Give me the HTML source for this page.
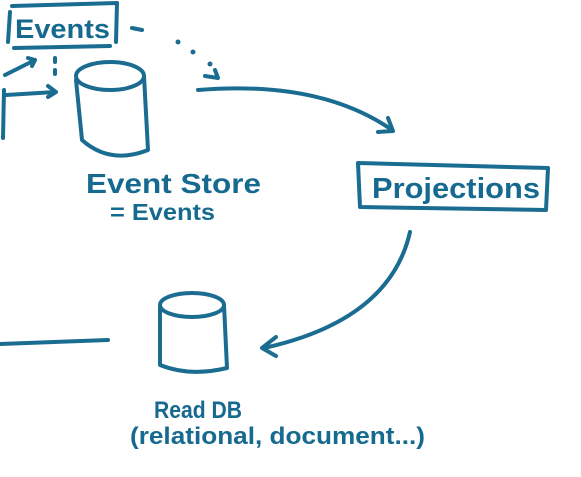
<!DOCTYPE html>
<html><head><style>
body{margin:0;background:#fff;width:581px;height:472px;overflow:hidden}
text{font-family:"Liberation Sans",sans-serif;fill:#176a8f;font-weight:bold}
</style></head><body>
<svg width="581" height="472" viewBox="0 0 581 472" fill="none" stroke="#1b6c91" stroke-width="4" stroke-linecap="round" stroke-linejoin="round">
<path d="M12 6 L117 3 M117 3 L116 42 M14 48 L110 46 M10 12 L8 42"/>
<text x="15" y="38" font-size="27" stroke="none" textLength="95" lengthAdjust="spacingAndGlyphs">Events</text>
<path d="M132 28 L142 30" /><circle cx="178" cy="42" r="2.5" fill="#1b6c91" stroke="none"/><circle cx="193" cy="52" r="2.5" fill="#1b6c91" stroke="none"/><circle cx="210" cy="64" r="2.5" fill="#1b6c91" stroke="none"/>
<path d="M205 76 L218 78 L215 70"/>
<path d="M55 58 L55 62 M55 70 L55 74"/>
<path d="M5 75 L35 60 M28 58 L35 60 L32 66"/>
<path d="M6 95 L55 92 M48 86 L56 92 L48 97"/>
<path d="M4 90 L3 138"/>
<ellipse cx="110" cy="76" rx="34" ry="14"/>
<path d="M76 80 L82 140 Q110 165 148 150 L144 76"/>
<text x="86" y="193" font-size="28" stroke="none" textLength="175" lengthAdjust="spacingAndGlyphs">Event Store</text>
<text x="110" y="220" font-size="23" stroke="none" textLength="105" lengthAdjust="spacingAndGlyphs">= Events</text>
<path d="M198 90 Q320 80 392 130 M378 132 L393 131 L388 118"/>
<path d="M358 163 L548 168 L546 210 L360 207 Z"/>
<text x="372" y="198" font-size="29" stroke="none" textLength="168" lengthAdjust="spacingAndGlyphs">Projections</text>
<path d="M410 232 Q390 320 264 348 M276 337 L262 348 L276 356"/>
<ellipse cx="192" cy="305" rx="32" ry="12"/>
<path d="M160 308 L160 365 Q190 377 227 368 L224 305"/>
<path d="M0 344 L108 340"/>
<text x="154" y="418" font-size="24" stroke="none" textLength="88" lengthAdjust="spacingAndGlyphs">Read DB</text>
<text x="130" y="444" font-size="24" stroke="none" textLength="295" lengthAdjust="spacingAndGlyphs">(relational, document...)</text>
</svg>
</body></html>
